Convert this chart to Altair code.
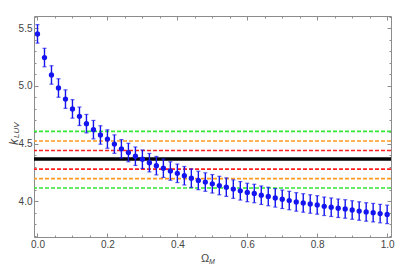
import altair as alt
import pandas as pd

# ---- data ----
omega_m = [0.00, 0.02, 0.04, 0.06, 0.08, 0.10, 0.12, 0.14, 0.16, 0.18,
           0.20, 0.22, 0.24, 0.26, 0.28, 0.30, 0.32, 0.34, 0.36, 0.38,
           0.40, 0.42, 0.44, 0.46, 0.48, 0.50, 0.52, 0.54, 0.56, 0.58,
           0.60, 0.62, 0.64, 0.66, 0.68, 0.70, 0.72, 0.74, 0.76, 0.78,
           0.80, 0.82, 0.84, 0.86, 0.88, 0.90, 0.92, 0.94, 0.96, 0.98, 1.00]
k_luv = [5.450, 5.245, 5.094, 4.981, 4.885, 4.800, 4.736, 4.672, 4.620, 4.574,
         4.539, 4.495, 4.454, 4.422, 4.390, 4.364, 4.334, 4.308, 4.286, 4.262,
         4.242, 4.221, 4.200, 4.180, 4.166, 4.151, 4.136, 4.122, 4.105, 4.090,
         4.076, 4.067, 4.052, 4.041, 4.029, 4.017, 4.006, 3.994, 3.985, 3.976,
         3.968, 3.956, 3.948, 3.939, 3.933, 3.924, 3.915, 3.907, 3.901, 3.893, 3.886]
k_err = [0.080, 0.080, 0.080, 0.080, 0.080, 0.080, 0.080, 0.080, 0.080, 0.080,
         0.080, 0.080, 0.080, 0.080, 0.080, 0.080, 0.080, 0.080, 0.080, 0.080,
         0.080, 0.080, 0.080, 0.080, 0.080, 0.080, 0.080, 0.080, 0.080, 0.080,
         0.080, 0.080, 0.080, 0.080, 0.080, 0.080, 0.080, 0.080, 0.080, 0.080,
         0.080, 0.080, 0.080, 0.080, 0.080, 0.080, 0.080, 0.080, 0.080, 0.080, 0.080]

band_values = [4.605, 4.522, 4.440, 4.278, 4.196, 4.114]
band_colors = ["#33e633", "#ff9a1f", "#ff2020", "#ff2020", "#ff9a1f", "#33e633"]
center_value = [4.366]

x_major = [0.0, 0.2, 0.4, 0.6, 0.8, 1.0]
x_minor = [0.05, 0.1, 0.15, 0.25, 0.3, 0.35, 0.45, 0.5, 0.55, 0.65, 0.7, 0.75,
           0.85, 0.9, 0.95]
y_major = [4.0, 4.5, 5.0, 5.5]
y_minor = [3.7, 3.8, 3.9, 4.1, 4.2, 4.3, 4.4, 4.6, 4.7, 4.8, 4.9, 5.1, 5.2, 5.3, 5.4, 5.6]

# ---- tables ----
pts = pd.DataFrame({"om": omega_m, "k": k_luv, "err": k_err})
pts["lo"] = pts["k"] - pts["err"]
pts["hi"] = pts["k"] + pts["err"]
bands = pd.DataFrame({"y": band_values, "c": band_colors})
center = pd.DataFrame({"y": center_value})
dummy = pd.DataFrame({"a": [0]})

W, H = 357, 221
xs = alt.Scale(domain=[-0.01, 1.011], nice=False, zero=False)
ys = alt.Scale(domain=[3.69, 5.605], nice=False, zero=False)
BLUE = "#1414f0"
FRAME = "#8c8c8c"
FONT = "Liberation Sans"


def axis(orient, values, size, labels):
    kw = dict(orient=orient, values=values, tickSize=size, offset=-size,
              domain=False, grid=False, labels=labels, title=None,
              tickColor=FRAME, tickWidth=1)
    if labels:
        kw.update(labelFont=FONT, labelFontSize=10, labelColor="#444444",
                  labelPadding=2, format=".1f", labelFlush=False)
    return alt.Axis(**kw)


def axis_layer(xa, ya):
    return alt.Chart(pts).mark_point(opacity=0).encode(
        x=alt.X("om:Q", scale=xs, axis=xa),
        y=alt.Y("k:Q", scale=ys, axis=ya),
    )


ax1 = axis_layer(axis("bottom", x_major, 4, True), axis("left", y_major, 4, True))
ax2 = axis_layer(axis("bottom", x_minor, 2, False), axis("left", y_minor, 2, False))
ax3 = axis_layer(axis("top", x_major, 4, False), axis("right", y_major, 4, False))
ax4 = axis_layer(axis("top", x_minor, 2, False), axis("right", y_minor, 2, False))

band_rules = alt.Chart(bands).mark_rule(strokeDash=[4, 2], strokeWidth=1.6).encode(
    y=alt.Y("y:Q", scale=ys, axis=None),
    color=alt.Color("c:N", scale=None, legend=None),
)
center_rule = alt.Chart(center).mark_rule(strokeWidth=3.5, color="black").encode(
    y=alt.Y("y:Q", scale=ys, axis=None),
)
err_rules = alt.Chart(pts).mark_rule(color=BLUE, strokeWidth=1.4).encode(
    x=alt.X("om:Q", scale=xs, axis=None),
    y=alt.Y("lo:Q", scale=ys, axis=None),
    y2="hi:Q",
)
cap_lo = alt.Chart(pts).mark_tick(color=BLUE, orient="horizontal", size=4, thickness=1.2).encode(
    x=alt.X("om:Q", scale=xs, axis=None),
    y=alt.Y("lo:Q", scale=ys, axis=None),
)
cap_hi = alt.Chart(pts).mark_tick(color=BLUE, orient="horizontal", size=4, thickness=1.2).encode(
    x=alt.X("om:Q", scale=xs, axis=None),
    y=alt.Y("hi:Q", scale=ys, axis=None),
)
dots = alt.Chart(pts).mark_circle(color=BLUE, opacity=1, size=28).encode(
    x=alt.X("om:Q", scale=xs, axis=None),
    y=alt.Y("k:Q", scale=ys, axis=None),
)

# axis titles (k_LUV and Omega_M with subscripts)
t_k = alt.Chart(dummy).mark_text(text="k", font=FONT, fontSize=12, fontStyle="italic",
                                  angle=270, align="center", baseline="middle",
                                  color="#444444").encode(x=alt.value(-20), y=alt.value(126))
t_luv = alt.Chart(dummy).mark_text(text="LUV", font=FONT, fontSize=8, fontStyle="italic",
                                    angle=270, align="left", baseline="middle",
                                    color="#444444").encode(x=alt.value(-17), y=alt.value(122))
t_om = alt.Chart(dummy).mark_text(text="Ω", font=FONT, fontSize=11,
                                   align="center", baseline="middle",
                                   color="#444444").encode(x=alt.value(171), y=alt.value(243))
t_m = alt.Chart(dummy).mark_text(text="M", font=FONT, fontSize=7, fontStyle="italic",
                                  align="left", baseline="middle",
                                  color="#444444").encode(x=alt.value(175), y=alt.value(246))

chart = alt.layer(
    band_rules, center_rule, err_rules, cap_lo, cap_hi, dots,
    ax1, ax2, ax3, ax4, t_k, t_luv, t_om, t_m,
).resolve_axis(x="independent", y="independent").properties(
    width=W, height=H,
    autosize=alt.AutoSizeParams(type="none"),
    padding={"left": 26, "top": 8, "right": 8, "bottom": 30},
).configure_view(stroke=FRAME, strokeWidth=1)

chart.save("out.html", embed_options={"renderer": "svg", "actions": False})
